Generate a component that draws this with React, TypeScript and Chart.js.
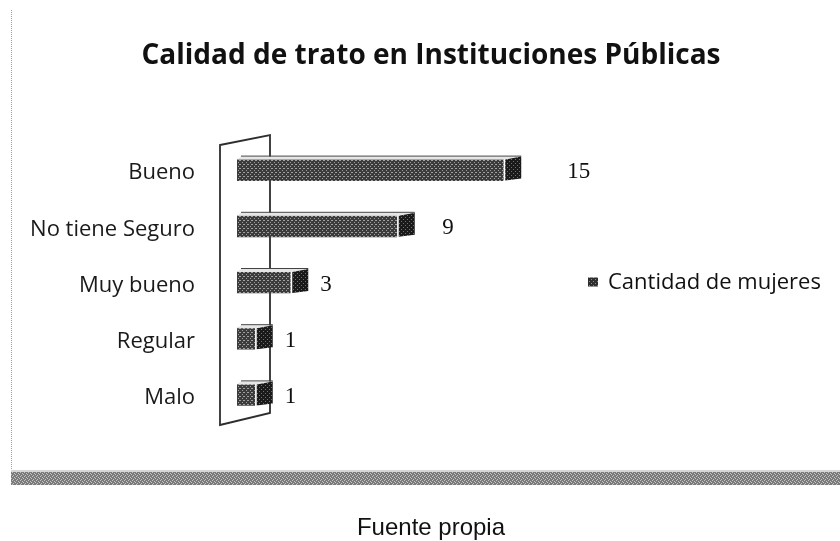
import React, { useEffect, useRef } from "react";
import { Chart, registerables } from "chart.js";

Chart.register(...registerables);

const categories = ["Bueno", "No tiene Seguro", "Muy bueno", "Regular", "Malo"];
const values = [15, 9, 3, 1, 1];
const seriesLabel = "Cantidad de mujeres";
const chartTitle = "Calidad de trato en Instituciones Públicas";
const sourceNote = "Fuente propia";
const xMin = 0;
const xMax = 20;

function makePattern(base: string, light: string, spots: number[][]) {
  const c = document.createElement("canvas");
  c.width = 4;
  c.height = 4;
  const g = c.getContext("2d")!;
  g.fillStyle = base;
  g.fillRect(0, 0, 4, 4);
  g.fillStyle = light;
  spots.forEach(([px, py]) => g.fillRect(px, py, 1, 1));
  return g.createPattern(c, "repeat");
}

const decorPlugin = {
  id: "decor",
  beforeDraw(chart: any) {
    const { ctx, width } = chart;
    ctx.save();
    ctx.fillStyle = "#ffffff";
    ctx.fillRect(0, 0, chart.width, chart.height);
    // outer frame: dotted left edge and textured bottom band
    ctx.strokeStyle = "#a0a0a0";
    ctx.lineWidth = 1;
    ctx.setLineDash([1, 1]);
    ctx.beginPath();
    ctx.moveTo(11.5, 10);
    ctx.lineTo(11.5, 472);
    ctx.stroke();
    ctx.setLineDash([]);
    ctx.fillStyle = makePattern("#7a7a7a", "#c4c4c4", [[0, 0], [2, 1], [1, 3], [3, 2]]) as any;
    ctx.fillRect(11, 472, width - 11, 13);
    ctx.fillStyle = "#d6d6d6";
    ctx.fillRect(11, 470, width - 11, 2);
    // title
    ctx.fillStyle = "#111111";
    ctx.font = "bold 28px 'Open Sans'";
    ctx.textAlign = "center";
    ctx.textBaseline = "alphabetic";
    ctx.fillText(chartTitle, 431, 64);
    ctx.restore();
  },
  beforeDatasetsDraw(chart: any) {
    const { ctx, chartArea: a } = chart;
    ctx.save();
    const L = a.left - 17;
    const R = a.left + 33;
    ctx.strokeStyle = "#2e2e2e";
    ctx.lineWidth = 1.8;
    ctx.beginPath();
    ctx.moveTo(L, a.top + 3);
    ctx.lineTo(R, a.top - 7);
    ctx.lineTo(R, a.bottom - 10);
    ctx.lineTo(L, a.bottom + 2);
    ctx.closePath();
    ctx.stroke();
    ctx.restore();
  },
  afterDatasetsDraw(chart: any) {
    const { ctx } = chart;
    const xs = chart.scales.x;
    const meta = chart.getDatasetMeta(0);
    ctx.save();
    const sidePattern = makePattern("#1a1a1a", "#707070", [[1, 1], [3, 3]]);
    meta.data.forEach((bar: any, i: number) => {
      const { x, y, base, height } = bar.getProps(["x", "y", "base", "height"], true);
      const top = y - height / 2;
      const bottom = y + height / 2;
      const d = 16;
      // top face
      ctx.fillStyle = "#e6e6e6";
      ctx.beginPath();
      ctx.moveTo(base, top);
      ctx.lineTo(base + 4, top - 3);
      ctx.lineTo(x + 2 + d, top - 3);
      ctx.lineTo(x, top);
      ctx.closePath();
      ctx.fill();
      ctx.strokeStyle = "#444444";
      ctx.lineWidth = 1;
      ctx.beginPath();
      ctx.moveTo(base + 4, top - 3.5);
      ctx.lineTo(x + 2 + d, top - 3.5);
      ctx.stroke();
      // side face
      ctx.fillStyle = sidePattern as any;
      ctx.beginPath();
      ctx.moveTo(x + 2, top);
      ctx.lineTo(x + 2 + d, top - 3);
      ctx.lineTo(x + 2 + d, bottom - 2);
      ctx.lineTo(x + 2, bottom);
      ctx.closePath();
      ctx.fill();
      // value label (placed with a perspective-like spread along the axis)
      const v = values[i];
      const lx = Math.max(xs.getPixelForValue(v * 1.175) + 17.5, x + 2 + d + 12);
      ctx.fillStyle = "#111111";
      ctx.font = "23px 'Liberation Serif'";
      ctx.textAlign = "left";
      ctx.textBaseline = "middle";
      ctx.fillText(String(v), lx, y + 2);
    });
    ctx.restore();
  },
  afterDraw(chart: any) {
    const { ctx, chartArea: a } = chart;
    ctx.save();
    const cy = (a.top + a.bottom) / 2;
    ctx.fillStyle = makePattern("#2e2e2e", "#8a8a8a", [[1, 1], [3, 3]]) as any;
    ctx.fillRect(a.right - 4, cy - 5, 10, 9);
    ctx.fillStyle = "#111111";
    ctx.font = "22px 'Open Sans'";
    ctx.textAlign = "left";
    ctx.textBaseline = "middle";
    ctx.fillText(seriesLabel, a.right + 16, cy);
    ctx.restore();
  },
};

export default function App() {
  const ref = useRef<HTMLCanvasElement | null>(null);

  useEffect(() => {
    const canvas = ref.current;
    if (!canvas) return;
    const frontPattern = makePattern("#3c3c3c", "#a0a0a0", [[0, 0], [2, 2], [3, 0]]);
    const chart = new Chart(canvas, {
      type: "bar",
      data: {
        labels: categories,
        datasets: [
          {
            label: seriesLabel,
            data: values,
            backgroundColor: frontPattern as any,
            borderWidth: 0,
            barThickness: 21,
          },
        ],
      },
      options: {
        indexAxis: "y",
        animation: false,
        responsive: false,
        devicePixelRatio: 1,
        layout: { padding: { top: 142, bottom: 118, left: 0, right: 248 } },
        plugins: {
          legend: { display: false },
          title: { display: false },
          tooltip: { enabled: false },
        },
        scales: {
          x: { display: false, min: xMin, max: xMax },
          y: {
            grid: { display: false, drawTicks: false },
            border: { display: false },
            ticks: {
              padding: 42,
              color: "#1a1a1a",
              font: { family: "'Open Sans'", size: 22 },
              labelOffset: 3,
            },
            afterFit: (scale: any) => {
              scale.width = 237;
            },
          },
        },
      },
      plugins: [decorPlugin],
    });
    return () => chart.destroy();
  }, []);

  return (
    <div style={{ position: "fixed", left: 0, top: 0, width: 840, height: 541, background: "#fff" }}>
      <canvas ref={ref} width={840} height={541} style={{ display: "block" }} />
      <div
        style={{
          position: "absolute",
          left: 0,
          top: 515,
          width: 862,
          textAlign: "center",
          fontFamily: "'Liberation Sans', Arial, sans-serif",
          fontSize: 24,
          lineHeight: "24px",
          color: "#111",
          whiteSpace: "nowrap",
        }}
      >
        {sourceNote}
      </div>
    </div>
  );
}
